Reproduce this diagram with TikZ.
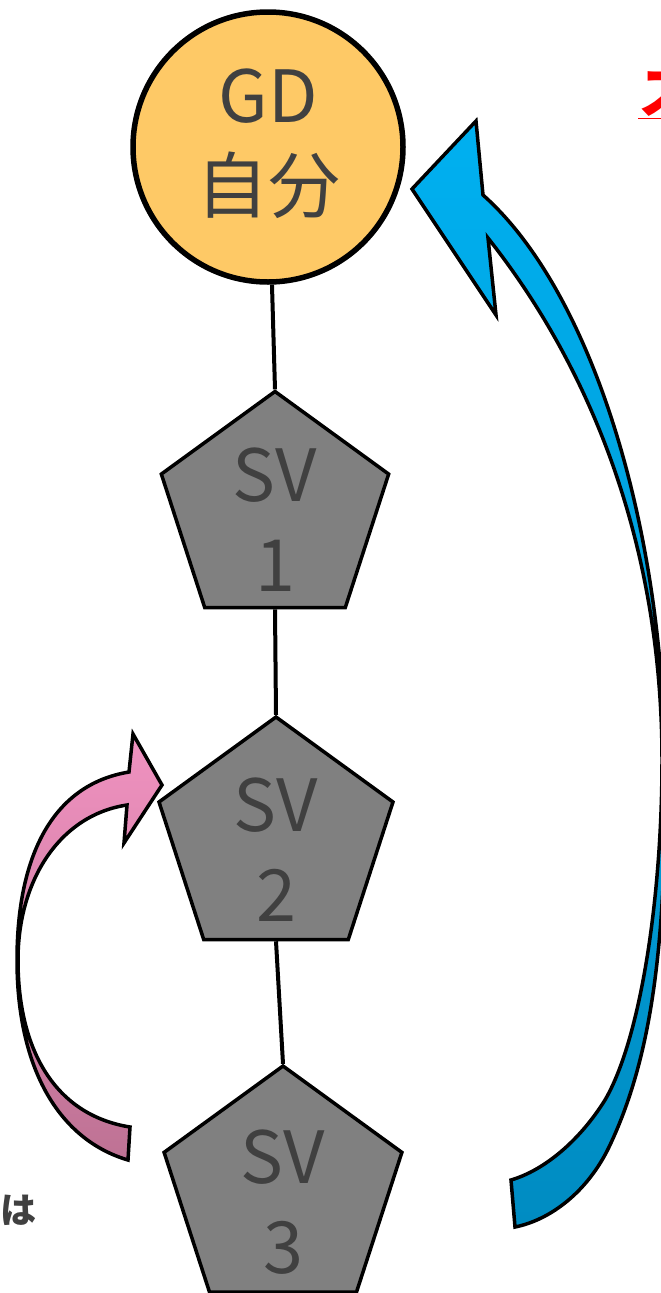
\documentclass[tikz,border=0pt]{standalone}
\usepackage{fontspec}
\setmainfont{Noto Sans CJK JP}
\newfontfamily\jpfont{Noto Sans CJK JP}
\usetikzlibrary{shapes.geometric}
\definecolor{gdfill}{RGB}{254,201,102}
\definecolor{svfill}{RGB}{128,128,128}
\definecolor{txtgray}{RGB}{64,64,64}
\definecolor{bluetop}{RGB}{0,176,240}
\definecolor{bluebot}{RGB}{0,140,194}
\definecolor{pinktop}{RGB}{240,146,192}
\definecolor{pinkbot}{RGB}{190,114,148}
\tikzset{
  gdnode/.style={circle, draw=black, line width=5.5pt, fill=gdfill, minimum size=270pt, inner sep=0pt},
  svshape/.style={regular polygon, regular polygon sides=5, draw=black, line width=3.5pt, fill=svfill, inner sep=0pt},
  bigtext/.style={text=txtgray, font=\jpfont\fontsize{72}{90}\selectfont, align=center, inner sep=0pt},
  link/.style={draw=black, line width=4pt},
  bluearrow/.style={top color=bluetop, bottom color=bluebot, draw=black, line width=3.5pt, line join=miter},
  pinkarrow/.style={top color=pinktop, bottom color=pinkbot, draw=black, line width=3.5pt, line join=miter},
}
\begin{document}
\begin{tikzpicture}[x=1pt, y=-1pt]
\useasboundingbox (0,0) rectangle (661,1293);
% arrows
\path[bluearrow] (412,189) -- (476,121) -- (483,195)
  .. controls (590,290) and (662,520) .. (665,760)
  .. controls (667,950) and (650,1060) .. (610,1145)
  .. controls (588,1192) and (550,1220) .. (515,1227)
  -- (511,1180)
  .. controls (545,1170) and (580,1140) .. (605,1100)
  .. controls (640,1040) and (662,900) .. (662,760)
  .. controls (662,560) and (600,380) .. (488,238)
  -- (496,315) -- cycle;
\path[pinkarrow] (162,785) -- (133,734) -- (129,772)
  .. controls (50,785) and (17,860) .. (17,960)
  .. controls (17,1070) and (60,1140) .. (128,1160)
  -- (130,1127)
  .. controls (55,1115) and (18,1050) .. (18,960)
  .. controls (18,880) and (60,815) .. (127,805)
  -- (124,843) -- cycle;
% nodes
\node[gdnode] (gd) at (268,147) {};
\node[bigtext] (gdt) at (268,144) {GD\\自分};
\node[svshape, minimum size=239pt] (sv1) at (275,511) {};
\node[bigtext] (sv1t) at (275,520) {SV\\1};
\node[svshape, minimum size=246pt] (sv2) at (276,840) {};
\node[bigtext] (sv2t) at (276,850) {SV\\2};
\node[svshape, minimum size=250pt] (sv3) at (283,1191) {};
\node[bigtext] (sv3t) at (283,1202) {SV\\3};
% connectors
\draw[link] (gd) -- (sv1.corner 1);
\draw[link] (sv1.side 3) -- (sv2.corner 1);
\draw[link] (sv2.side 3) -- (sv3.corner 1);
% partial texts (cut off at the edges, as in the reference)
\node[anchor=west, inner sep=0pt, text=red, font=\jpfont\bfseries\fontsize{56}{60}\selectfont] (red) at (638,95) {\underline{ス}};
\node[anchor=west, inner sep=0pt, text=txtgray, font=\jpfont\bfseries\fontsize{36}{40}\selectfont] (ha) at (0,1210) {は};
\end{tikzpicture}
\end{document}
